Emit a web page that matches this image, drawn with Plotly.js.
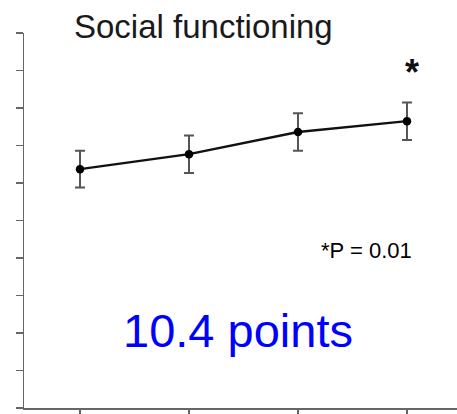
<!DOCTYPE html>
<html>
<head>
<meta charset="utf-8">
<script src="https://cdn.plot.ly/plotly-3.0.1.min.js"></script>
<style>
  html, body { margin: 0; padding: 0; background: #fff; }
  #chart { width: 457px; height: 414px; }
</style>
</head>
<body>
<div id="chart"></div>
<script>
// Social functioning score at four assessment points (mean ± error)
const visits = [0, 1, 2, 3];
const meanScore = [63.7, 67.7, 73.6, 76.5];
const errScore = [4.9, 5.0, 5.0, 5.0];
const yTicks = [0, 10, 20, 30, 40, 50, 60, 70, 80, 90, 100];

const trace = {
  x: visits,
  y: meanScore,
  type: 'scatter',
  mode: 'lines+markers',
  line: { color: '#111', width: 2.5 },
  marker: { color: '#000', size: 8.5 },
  error_y: {
    type: 'data',
    array: errScore,
    visible: true,
    color: '#555',
    thickness: 2,
    width: 5
  },
  hoverinfo: 'skip'
};

const font = 'Liberation Sans, Arial, sans-serif';

const layout = {
  width: 457,
  height: 414,
  margin: { l: 24, r: 0, t: 33, b: 6 },
  paper_bgcolor: '#fff',
  plot_bgcolor: '#fff',
  showlegend: false,
  xaxis: {
    range: [-0.514, 3.459],
    tickvals: visits,
    showticklabels: false,
    ticks: 'outside',
    ticklen: 8,
    tickwidth: 1.5,
    tickcolor: '#666',
    showline: true,
    linecolor: '#666',
    linewidth: 1.5,
    showgrid: false,
    zeroline: false,
    fixedrange: true
  },
  yaxis: {
    range: [0, 100],
    tickvals: yTicks,
    showticklabels: false,
    ticks: 'outside',
    ticklen: 7,
    tickwidth: 1.5,
    tickcolor: '#666',
    showline: true,
    linecolor: '#666',
    linewidth: 1.5,
    showgrid: false,
    zeroline: false,
    fixedrange: true
  },
  annotations: [
    {
      text: 'Social functioning',
      xref: 'paper', yref: 'paper',
      x: (72 - 24) / 433, y: 1.018,
      xanchor: 'left', yanchor: 'middle',
      showarrow: false,
      font: { family: font, size: 33, color: '#1a1a1a' }
    },
    {
      text: '<b>*</b>',
      xref: 'x', yref: 'y',
      x: 3.05, y: 89.5,
      xanchor: 'center', yanchor: 'middle',
      showarrow: false,
      font: { family: font, size: 36, color: '#111' }
    },
    {
      text: '*P = 0.01',
      xref: 'paper', yref: 'paper',
      x: (414 - 24) / 433, y: (408 - 250) / 375,
      xanchor: 'right', yanchor: 'middle',
      showarrow: false,
      font: { family: font, size: 22, color: '#000' }
    },
    {
      text: '10.4 points',
      xref: 'paper', yref: 'paper',
      x: (237.5 - 24) / 433, y: (408 - 330) / 375,
      xanchor: 'center', yanchor: 'middle',
      showarrow: false,
      font: { family: font, size: 47, color: '#0000ff' }
    }
  ]
};

Plotly.newPlot('chart', [trace], layout, { displayModeBar: false, staticPlot: true });
</script>
</body>
</html>
